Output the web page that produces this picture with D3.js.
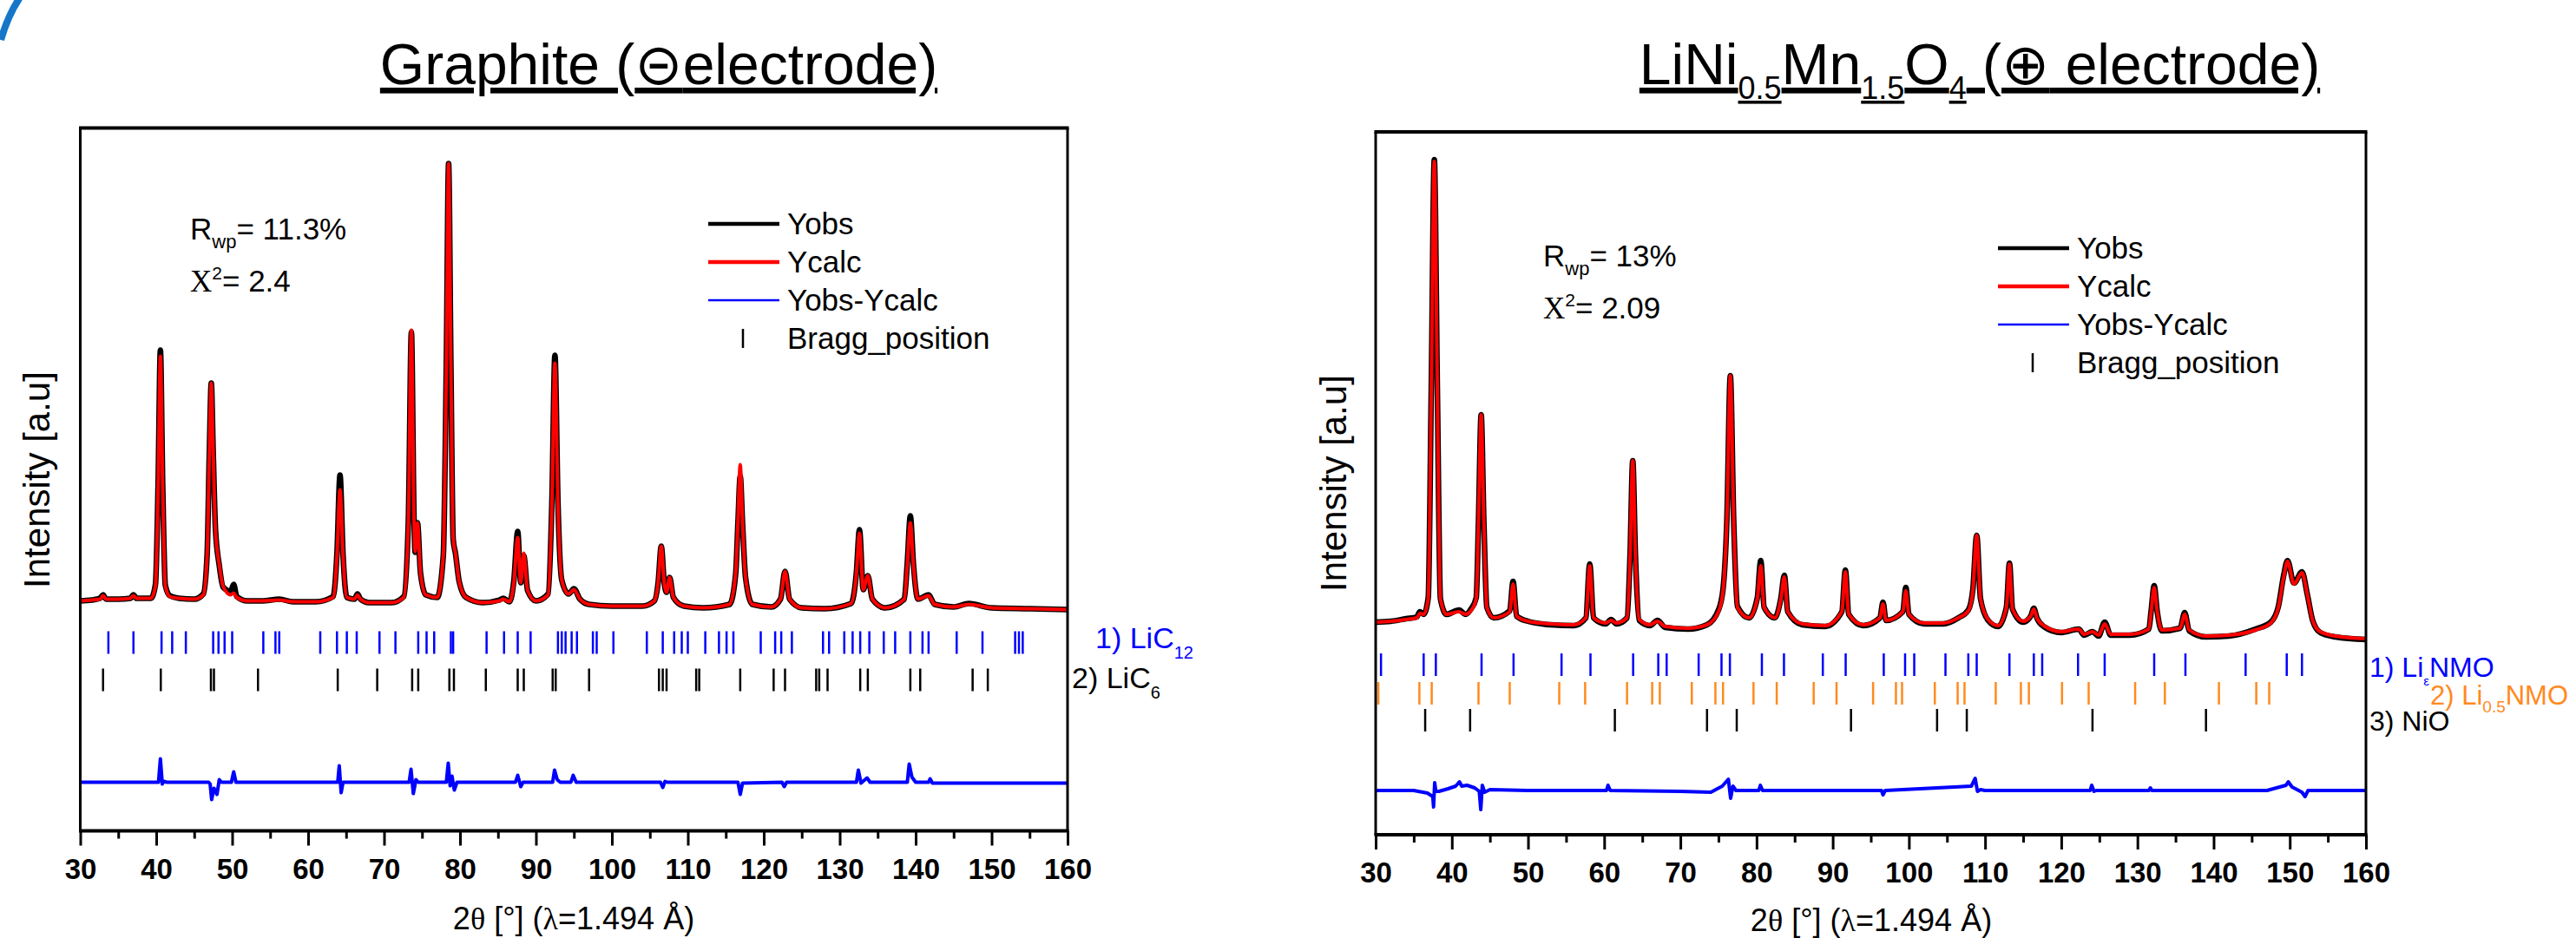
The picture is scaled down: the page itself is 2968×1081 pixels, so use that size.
<!DOCTYPE html>
<html>
<head>
<meta charset="utf-8">
<script src="https://cdn.jsdelivr.net/npm/d3@7"></script>
<style>
  body { margin: 0; background: #fff; }
  svg { display: block; font-family: "Liberation Sans", Arial, "DejaVu Sans", sans-serif; }
</style>
</head>
<body>
<svg id="chart" width="2968" height="1081"></svg>
<script>
// x axis (2theta, degrees)
const xTickValues = [30, 40, 50, 60, 70, 80, 90, 100, 110, 120, 130, 140, 150, 160];
const xMinorTickValues = [35, 45, 55, 65, 75, 85, 95, 105, 115, 125, 135, 145, 155];
const legendNames = ["Yobs", "Ycalc", "Yobs-Ycalc", "Bragg_position"];

// ---- Graphite (negative electrode) : intensity a.u.
const graphiteTheta = [30, 31.5, 32.6, 33.0, 33.4, 35, 36.6, 37.0, 37.4, 39.3, 39.9, 40.25, 40.55, 40.85, 41.2, 41.8, 43, 45, 46.2, 46.7, 47.0, 47.25, 47.5, 47.8, 48.3, 48.8, 49.8, 50.2, 50.6, 52, 54, 56.2, 58, 61, 63.3, 63.8, 64.2, 64.6, 65.1, 66.1, 66.5, 66.9, 68, 71, 72.6, 73.2, 73.6, 73.95, 74.1, 74.4, 74.8, 75.5, 77, 77.8, 78.2, 78.5, 78.8, 79.1, 79.4, 79.9, 80.8, 83, 85.2, 85.7, 86.5, 87.1, 87.6, 88.0, 88.4, 88.9, 90, 91.6, 92.1, 92.5, 92.9, 93.4, 94.3, 95.0, 95.8, 97, 100, 104, 105.6, 106.1, 106.5, 106.9, 107.2, 107.6, 108.1, 109.5, 112, 115.5, 116.3, 116.6, 116.9, 117.2, 117.6, 118.5, 121, 122.2, 122.8, 123.4, 125, 128, 131.5, 132.2, 132.6, 133.1, 133.7, 134.3, 136, 138.5, 138.9, 139.3, 139.7, 140.3, 141.7, 142.5, 145, 147, 150, 155, 160];
const graphiteCalc = [265, 266, 267, 271, 267, 267, 268, 271, 268, 268, 282, 397, 547, 397, 282, 270, 268, 267, 272, 317, 437, 516, 437, 347, 307, 282, 272, 274, 269, 265, 265, 266, 264, 264, 269, 317, 393, 317, 269, 267, 272, 267, 263, 263, 269, 357, 577, 357, 322, 355, 297, 272, 269, 317, 537, 769, 537, 337, 320, 287, 269, 263, 265, 267, 264, 287, 338, 286, 320, 277, 265, 272, 377, 539, 377, 289, 273, 278, 267, 261, 259, 259, 265, 287, 328, 285, 275, 292, 269, 259, 257, 261, 297, 357, 422, 357, 292, 261, 258, 267, 299, 267, 257, 256, 262, 297, 343, 278, 294, 267, 257, 267, 307, 355, 307, 267, 271, 261, 258, 261, 257, 256, 255];
const graphiteObs = [265, 266, 268, 272, 267, 267, 268, 272, 268, 268, 284, 400, 554, 399, 283, 271, 268, 267, 273, 318, 438, 516, 437, 348, 306, 281, 276, 284, 270, 265, 265, 267, 264, 264, 270, 320, 410, 318, 269, 267, 273, 267, 263, 263, 270, 358, 575, 357, 321, 355, 297, 272, 269, 317, 537, 769, 537, 336, 320, 287, 269, 263, 266, 268, 264, 289, 345, 286, 317, 277, 265, 273, 379, 548, 378, 289, 273, 279, 267, 261, 259, 259, 265, 287, 328, 285, 275, 292, 269, 259, 257, 261, 296, 355, 409, 355, 292, 261, 258, 267, 299, 267, 257, 256, 262, 298, 347, 278, 294, 267, 257, 267, 309, 363, 308, 267, 272, 261, 258, 262, 257, 256, 255];
const graphiteDiffTheta = [30, 40.3, 40.55, 40.8, 41.0, 41.4, 46.9, 47.1, 47.3, 47.6, 48.0, 48.3, 48.6, 49.9, 50.2, 50.5, 63.9, 64.1, 64.35, 64.6, 73.3, 73.55, 73.85, 74.2, 74.5, 78.2, 78.45, 78.7, 78.95, 79.25, 79.6, 87.3, 87.6, 88.0, 88.3, 92.2, 92.45, 92.8, 93.2, 94.6, 94.9, 95.3, 106.4, 106.7, 107.0, 107.3, 116.6, 116.9, 117.2, 122.4, 122.7, 123.0, 132.2, 132.45, 132.8, 133.6, 134.0, 138.9, 139.15, 139.5, 140.0, 141.7, 141.9, 142.2, 160];
const graphiteDiff = [56, 56, 83, 54, 57, 56, 56, 54, 36, 49, 42, 59, 56, 56, 68, 56, 56, 75, 44, 56, 56, 71, 43, 59, 56, 56, 78, 52, 63, 47, 56, 56, 64, 51, 56, 56, 70, 59, 56, 56, 64, 56, 56, 50, 57, 56, 56, 42, 55, 56, 51, 56, 56, 70, 55, 61, 56, 56, 77, 62, 56, 56, 60, 55, 55];
const braggLiC12 = [33.7, 37.0, 40.7, 42.1, 43.9, 47.5, 48.2, 49.0, 50.0, 54.1, 55.7, 56.2, 61.6, 63.8, 65.1, 66.4, 69.4, 71.5, 74.5, 75.6, 76.6, 78.8, 79.1, 83.5, 85.8, 87.6, 89.3, 92.9, 93.4, 93.9, 94.7, 95.4, 97.5, 98.0, 100.2, 104.6, 106.7, 108.2, 109.2, 110.0, 112.3, 114.1, 115.1, 116.0, 119.6, 121.5, 122.3, 123.7, 127.8, 128.6, 130.6, 131.7, 132.7, 133.9, 135.8, 137.3, 139.3, 140.9, 141.7, 145.4, 148.8, 153.1, 153.6, 154.1];
const braggLiC6 = [33.0, 40.6, 47.2, 47.6, 53.4, 63.9, 69.1, 73.7, 74.5, 78.6, 79.2, 83.4, 87.6, 88.4, 92.2, 92.6, 97.0, 106.2, 106.7, 107.2, 111.1, 111.5, 116.9, 121.3, 122.8, 126.9, 127.3, 128.4, 132.7, 133.7, 139.3, 140.6, 147.5, 149.5];

// ---- LiNi0.5Mn1.5O4 (positive electrode)
const lnmoTheta = [30, 32, 34, 35.4, 35.8, 36.3, 36.9, 37.3, 37.7, 38.1, 38.5, 39.3, 40.95, 41.8, 42.5, 43.2, 43.5, 43.85, 44.2, 44.6, 45.5, 47.6, 48.04, 48.5, 50, 53, 56, 57.6, 58.1, 58.6, 60.2, 60.9, 61.6, 63.0, 63.4, 63.75, 64.1, 64.6, 66, 67, 68, 71, 73.5, 75.0, 75.6, 76.1, 76.56, 77.0, 77.5, 79, 80.1, 80.55, 81, 82.4, 83.2, 83.65, 84.1, 86, 89, 91.2, 91.66, 92.1, 94, 96.2, 96.6, 97, 99.2, 99.6, 100, 102, 104.5, 106.5, 107.8, 108.4, 108.9, 109.4, 110.4, 111.7, 112.8, 113.2, 113.6, 115, 116, 116.4, 116.8, 117.7, 120, 122.3, 123, 124.1, 124.9, 125.7, 126.5, 129, 131.5, 131.8, 132.2, 132.6, 133.2, 135.6, 136.2, 136.8, 139, 142, 145.5, 147.5, 148.5, 149.2, 149.7, 150.55, 151.6, 152.3, 153, 154, 156, 160];
const lnmoCalc = [245, 246, 248, 250, 255, 254, 272, 512, 776, 512, 272, 254, 257, 254, 258, 272, 362, 484, 362, 262, 250, 257, 289, 252, 246, 243, 242, 250, 310, 250, 244, 247, 244, 250, 322, 431, 322, 248, 242, 246, 240, 238, 242, 257, 281, 362, 529, 362, 262, 250, 272, 310, 262, 250, 272, 297, 257, 243, 241, 257, 303, 254, 242, 250, 266, 247, 257, 281, 254, 244, 244, 250, 258, 282, 345, 272, 248, 241, 262, 312, 260, 246, 252, 260, 250, 241, 234, 237, 231, 234, 230, 243, 231, 231, 237, 257, 285, 257, 236, 238, 254, 236, 229, 230, 236, 244, 262, 297, 315, 289, 302, 277, 247, 234, 229, 226];
const lnmoObs = [245, 246, 249, 251, 257, 254, 273, 513, 778, 512, 272, 254, 259, 254, 260, 273, 362, 484, 362, 262, 250, 258, 292, 252, 246, 242, 241, 250, 312, 250, 243, 248, 243, 250, 323, 431, 322, 247, 241, 247, 239, 237, 242, 259, 283, 362, 529, 362, 263, 250, 273, 316, 262, 250, 273, 299, 257, 242, 240, 257, 305, 254, 241, 250, 268, 247, 257, 285, 254, 243, 243, 250, 259, 283, 345, 272, 247, 240, 262, 313, 260, 245, 252, 261, 250, 240, 233, 237, 230, 234, 229, 245, 230, 230, 237, 258, 287, 257, 235, 238, 256, 235, 228, 229, 237, 245, 263, 299, 316, 290, 303, 277, 247, 233, 228, 225];
const lnmoDiffTheta = [30, 35, 36.8, 37.5, 37.6, 37.75, 37.9, 38.3, 39.5, 40.5, 41.0, 41.3, 42.0, 43.0, 43.6, 43.8, 44.0, 44.3, 45, 50, 60.3, 60.5, 60.8, 70, 74, 75.5, 76.3, 76.6, 76.9, 77.3, 80.3, 80.5, 80.8, 96.4, 96.6, 96.9, 108.2, 108.7, 109.0, 109.4, 110, 123.8, 124.0, 124.3, 124.6, 131.5, 131.7, 131.9, 147, 149.5, 149.8, 150.3, 151.6, 152.0, 152.4, 160];
const lnmoDiff = [51, 51, 48, 44, 32, 60, 50, 50, 53, 56, 61, 56, 57, 54, 50, 29, 57, 49, 52, 51, 51, 57, 51, 50, 49, 56, 64, 42, 56, 51, 51, 57, 51, 51, 46, 51, 56, 65, 50, 52, 51, 51, 57, 50, 51, 51, 54, 51, 51, 57, 61, 55, 49, 44, 51, 51];
const braggLiNMO = [30.7, 36.3, 37.9, 43.9, 48.1, 54.4, 58.2, 63.8, 67.1, 68.2, 72.4, 75.4, 76.5, 80.7, 83.6, 88.7, 91.7, 96.7, 99.5, 100.7, 104.8, 107.8, 108.9, 113.2, 116.4, 117.5, 122.2, 125.7, 132.2, 136.3, 144.2, 149.6, 151.6];
const braggLi05NMO = [30.35, 35.74, 37.36, 43.5, 47.6, 54.1, 57.5, 63.0, 66.3, 67.3, 71.5, 74.6, 75.6, 79.6, 82.65, 87.5, 90.5, 95.3, 98.3, 99.1, 103.4, 106.4, 107.3, 111.4, 114.7, 115.75, 120.1, 123.6, 129.7, 133.6, 140.7, 145.6, 147.3];
const braggNiO = [36.5, 42.4, 61.4, 73.5, 77.4, 92.4, 103.7, 107.6, 124.1, 139.0];

const svg = d3.select("#chart");
const blue = "#0000ff", red = "#ff0000", orange = "#ff8a1f";

// small decoration of the slide, top-left corner
svg.append("path")
    .attr("d", "M23,-3 Q9,18 1,46")
    .attr("fill", "none")
    .attr("stroke", "#1677c9")
    .attr("stroke-width", 8);

const panels = [
    {
        left: 92.5, right: 1230, top: 147.5, bottom: 957.5,
        theta: graphiteTheta, obs: graphiteObs, calc: graphiteCalc,
        diffTheta: graphiteDiffTheta, diff: graphiteDiff,
        phases: [
            {pos: braggLiC12, color: blue, hi: 230, lo: 204},
            {pos: braggLiC6, color: "#000", hi: 187, lo: 161}
        ],
        phaseLabels: [
            {x: 1262, y: 747, color: blue, size: 34, parts: [{t: "1) LiC"}, {t: "12", sub: 12, size: 20}]},
            {x: 1235, y: 793, color: "#000", size: 34, parts: [{t: "2) LiC"}, {t: "6", sub: 12, size: 20}]}
        ],
        title: {x: 759, y: 97, parts: [{t: "Graphite ("}, {t: "\u229D", font: "DejaVu Sans"}, {t: "electrode)"}]},
        rwp: {x: 219, y: 276, value: "= 11.3%", chi: "= 2.4"},
        legend: {x: 816, y: 258},
        yLabel: {x: 57, y: 553},
        xLabel: {x: 661, y: 1071}
    },
    {
        left: 1585, right: 2726, top: 152, bottom: 962,
        theta: lnmoTheta, obs: lnmoObs, calc: lnmoCalc,
        diffTheta: lnmoDiffTheta, diff: lnmoDiff,
        phases: [
            {pos: braggLiNMO, color: blue, hi: 209, lo: 183},
            {pos: braggLi05NMO, color: orange, hi: 176, lo: 150},
            {pos: braggNiO, color: "#000", hi: 145, lo: 119}
        ],
        phaseLabels: [
            {x: 2730, y: 780, color: blue, size: 32, parts: [{t: "1) Li"}, {t: "\u03B5", sub: 10, size: 15}, {t: "NMO"}]},
            {x: 2800, y: 812, color: orange, size: 31, parts: [{t: "2) Li"}, {t: "0.5", sub: 9, size: 19}, {t: "NMO"}]},
            {x: 2730, y: 842, color: "#000", size: 32, parts: [{t: "3) NiO"}]}
        ],
        title: {x: 2281, y: 97, parts: [{t: "LiNi"}, {t: "0.5", sub: 17, size: 36}, {t: "Mn"}, {t: "1.5", sub: 17, size: 36}, {t: "O"}, {t: "4", sub: 17, size: 36}, {t: " ("}, {t: "\u2295", font: "DejaVu Sans"}, {t: " electrode)"}]},
        rwp: {x: 1778, y: 307, value: "= 13%", chi: "= 2.09"},
        legend: {x: 2302, y: 286},
        yLabel: {x: 1551, y: 557},
        xLabel: {x: 2156, y: 1073}
    }
];

panels.forEach(drawPanel);

function richText(sel, x, y, parts, size, color) {
    const t = sel.append("text")
        .attr("x", x)
        .attr("y", y)
        .attr("font-size", size)
        .attr("fill", color || "#000");
    let shift = 0;
    parts.forEach(function (p) {
        const target = p.sub ? p.sub : (p.sup ? -p.sup : 0);
        const s = t.append("tspan").attr("dy", target - shift).text(p.t);
        shift = target;
        if (p.size) s.attr("font-size", p.size);
        if (p.font) s.attr("font-family", p.font);
    });
    return t;
}

function drawPanel(p) {
    const g = svg.append("g");

    const x = d3.scaleLinear().domain([30, 160]).range([p.left, p.right]);
    const y = d3.scaleLinear().domain([0, 810]).range([p.bottom, p.top]);

    const profile = d3.line()
        .x(function (d) { return x(d[0]); })
        .y(function (d) { return y(d[1]); })
        .curve(d3.curveMonotoneX);

    g.append("path")
        .datum(d3.zip(p.theta, p.obs))
        .attr("fill", "none")
        .attr("stroke", "#000")
        .attr("stroke-width", 6.5)
        .attr("stroke-linejoin", "round")
        .attr("d", profile);

    g.append("path")
        .datum(d3.zip(p.theta, p.calc))
        .attr("fill", "none")
        .attr("stroke", red)
        .attr("stroke-width", 4)
        .attr("stroke-linejoin", "round")
        .attr("d", profile);

    g.append("path")
        .datum(d3.zip(p.diffTheta, p.diff))
        .attr("fill", "none")
        .attr("stroke", blue)
        .attr("stroke-width", 4)
        .attr("stroke-linejoin", "round")
        .attr("d", d3.line()
            .x(function (d) { return x(d[0]); })
            .y(function (d) { return y(d[1]); }));

    // Bragg positions
    p.phases.forEach(function (ph) {
        g.append("g")
            .selectAll("line")
            .data(ph.pos)
            .join("line")
            .attr("x1", function (d) { return x(d); })
            .attr("x2", function (d) { return x(d); })
            .attr("y1", y(ph.hi))
            .attr("y2", y(ph.lo))
            .attr("stroke", ph.color)
            .attr("stroke-width", 2.5);
    });

    // frame
    g.append("line").attr("x1", p.left - 1.5).attr("x2", p.right + 1.5).attr("y1", p.top).attr("y2", p.top)
        .attr("stroke", "#000").attr("stroke-width", 4);
    g.append("line").attr("x1", p.left - 1.5).attr("x2", p.right + 1.5).attr("y1", p.bottom).attr("y2", p.bottom)
        .attr("stroke", "#000").attr("stroke-width", 4);
    g.append("line").attr("x1", p.left).attr("x2", p.left).attr("y1", p.top).attr("y2", p.bottom)
        .attr("stroke", "#000").attr("stroke-width", 3);
    g.append("line").attr("x1", p.right).attr("x2", p.right).attr("y1", p.top).attr("y2", p.bottom)
        .attr("stroke", "#000").attr("stroke-width", 3);

    // x axis
    const major = g.append("g")
        .attr("transform", "translate(0," + p.bottom + ")")
        .call(d3.axisBottom(x).tickValues(xTickValues).tickSize(17).tickPadding(15).tickSizeOuter(0));
    major.select(".domain").remove();
    major.selectAll(".tick line").attr("stroke-width", 3);
    major.selectAll(".tick text")
        .attr("font-family", "Liberation Sans, Arial, sans-serif")
        .attr("font-weight", "bold")
        .attr("font-size", 33)
        .attr("fill", "#000");

    const minor = g.append("g")
        .attr("transform", "translate(0," + p.bottom + ")")
        .call(d3.axisBottom(x).tickValues(xMinorTickValues).tickSize(9).tickFormat("").tickSizeOuter(0));
    minor.select(".domain").remove();
    minor.selectAll(".tick line").attr("stroke-width", 3);

    // axis titles
    const xt = richText(g, p.xLabel.x, p.xLabel.y, [
        {t: "2"}, {t: "\u03B8", font: "Liberation Serif"}, {t: " [\u00B0] ("},
        {t: "\u03BB", font: "Liberation Serif"}, {t: "=1.494 \u00C5)"}
    ], 36);
    xt.attr("text-anchor", "middle");

    g.append("text")
        .attr("transform", "translate(" + p.yLabel.x + "," + p.yLabel.y + ") rotate(-90)")
        .attr("text-anchor", "middle")
        .attr("font-size", 42)
        .text("Intensity [a.u]");

    // panel title
    const tt = richText(svg, p.title.x, p.title.y, p.title.parts, 66);
    tt.attr("text-anchor", "middle").attr("text-decoration", "underline");

    // agreement factors
    richText(g, p.rwp.x, p.rwp.y, [{t: "R"}, {t: "wp", sub: 10, size: 22}, {t: p.rwp.value}], 35);
    richText(g, p.rwp.x, p.rwp.y + 60, [
        {t: "X", font: "Liberation Serif"}, {t: "2", sup: 14, size: 21}, {t: p.rwp.chi}
    ], 35);

    // legend
    const lg = g.append("g");
    const legendColors = ["#000", red, blue];
    const legendWidths = [4.5, 4.5, 2.5];
    legendNames.forEach(function (name, i) {
        const ly = p.legend.y + i * 44;
        if (i < 3) {
            lg.append("line")
                .attr("x1", p.legend.x).attr("x2", p.legend.x + 82)
                .attr("y1", ly).attr("y2", ly)
                .attr("stroke", legendColors[i])
                .attr("stroke-width", legendWidths[i]);
        } else {
            lg.append("line")
                .attr("x1", p.legend.x + 40).attr("x2", p.legend.x + 40)
                .attr("y1", ly - 11).attr("y2", ly + 11)
                .attr("stroke", "#000")
                .attr("stroke-width", 2.5);
        }
        lg.append("text")
            .attr("x", p.legend.x + 91)
            .attr("y", ly + 12)
            .attr("font-size", 35)
            .text(name);
    });

    // phase names
    p.phaseLabels.forEach(function (l) {
        richText(g, l.x, l.y, l.parts, l.size, l.color);
    });
}
</script>
</body>
</html>
